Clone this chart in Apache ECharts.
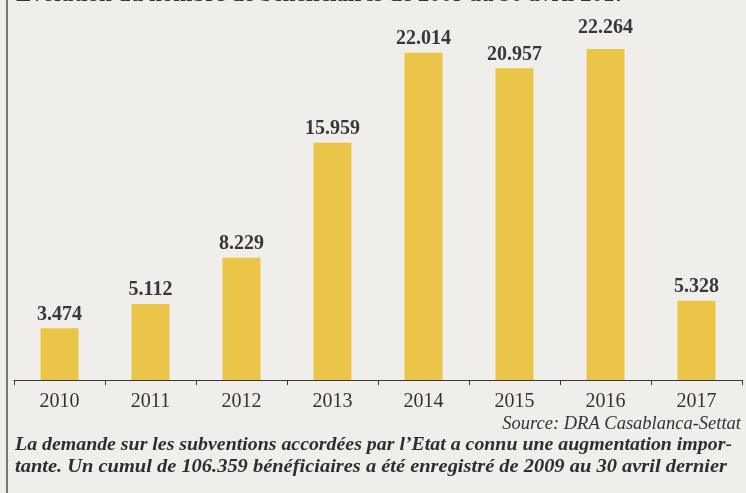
<!DOCTYPE html>
<html>
<head>
<meta charset="utf-8">
<script src="https://cdn.jsdelivr.net/npm/echarts@6/dist/echarts.min.js"></script>
<style>
html,body{margin:0;padding:0;background:#efeeeb;}
#chart{width:746px;height:493px;}
</style>
</head>
<body>
<div id="chart"></div>
<script>
const categories = ['2010','2011','2012','2013','2014','2015','2016','2017'];
const beneficiaires = [3474, 5112, 8229, 15959, 22014, 20957, 22264, 5328];
const titleText = 'Evolution du nombre de bénéficiaires de 2009 au 30 avril 2017';
const sourceText = 'Source: DRA Casablanca-Settat';
const captionLines = [
  "La demande sur les subventions accordées par l’Etat a connu une augmentation impor-",
  "tante. Un cumul de 106.359 bénéficiaires a été enregistré de 2009 au 30 avril dernier"
];

function fmt(v){
  const s = String(v);
  return s.length > 3 ? s.slice(0, s.length-3) + '.' + s.slice(s.length-3) : s;
}

const chart = echarts.init(document.getElementById('chart'));
const serif = '"Liberation Serif", "Times New Roman", serif';

// measure caption widths to stretch them to the reference line length
const cv = document.createElement('canvas').getContext('2d');
cv.font = 'italic bold 19px ' + serif;
const w1 = cv.measureText(captionLines[0]).width;
const w2 = cv.measureText(captionLines[1]).width;

chart.setOption({
  backgroundColor: '#efeeeb',
  animation: false,
  grid: {left: 14, right: 4, top: 8.25, bottom: 113, containLabel: false},
  xAxis: {
    type: 'category',
    data: categories,
    boundaryGap: true,
    axisLine: {show: true, lineStyle: {color: '#3a3a3a', width: 1}},
    axisTick: {show: true, length: 5, inside: false, lineStyle: {color: '#3a3a3a'}},
    axisLabel: {fontFamily: serif, fontSize: 20, color: '#333', margin: 12}
  },
  yAxis: {
    type: 'value', min: 0, max: 25000, show: false,
    splitLine: {show: false}
  },
  series: [{
    type: 'bar',
    barWidth: 38,
    data: beneficiaires.map((v, i) => ({
      value: v,
      label: i === 6 ? {distance: 11} : undefined
    })),
    itemStyle: {color: '#ebc548'},
    label: {
      show: true, position: 'top', distance: 4,
      fontFamily: serif, fontSize: 20, fontWeight: 'bold', color: '#383838',
      formatter: p => fmt(p.value)
    }
  }],
  graphic: [
    {type: 'rect', left: 6, top: 0, shape: {width: 2, height: 493}, style: {fill: '#777'}},
    {type: 'text', x: 16, y: -16, style: {text: titleText, font: 'bold 23px ' + serif, fill: '#333'}},
    {type: 'text', right: 5, top: 415, style: {text: sourceText, font: 'italic 18.5px ' + serif, fill: '#333'}},
    {type: 'text', x: 15, y: 436, scaleX: 717 / w1, style: {text: captionLines[0], font: 'italic bold 19px ' + serif, fill: '#2e2e2e'}},
    {type: 'text', x: 15, y: 458, scaleX: 712 / w2, style: {text: captionLines[1], font: 'italic bold 19px ' + serif, fill: '#2e2e2e'}}
  ]
});
</script>
</body>
</html>
